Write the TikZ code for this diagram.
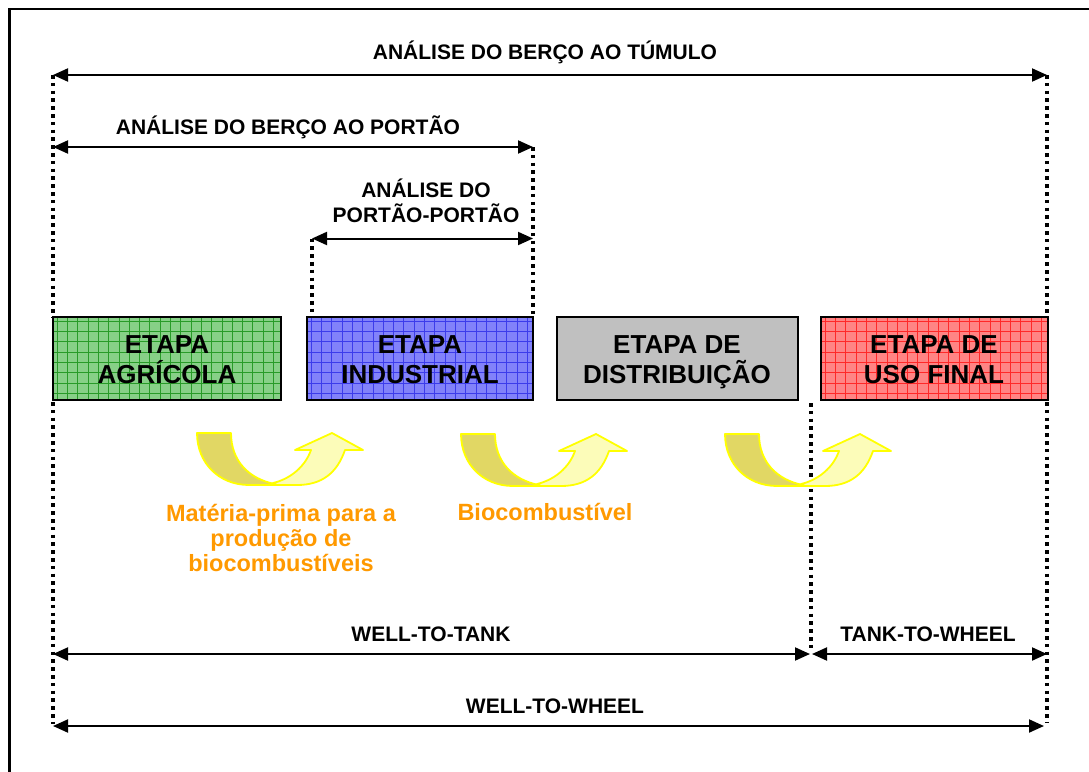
\documentclass[tikz,border=0pt]{standalone}
\usepackage{fontspec}
\setmainfont{Liberation Sans}
\usetikzlibrary{arrows.meta}
\definecolor{grfill}{RGB}{135,208,135}
\definecolor{grline}{RGB}{40,155,40}
\definecolor{blfill}{RGB}{130,130,250}
\definecolor{blline}{RGB}{60,60,235}
\definecolor{rdfill}{RGB}{255,132,132}
\definecolor{rdline}{RGB}{255,40,40}
\definecolor{gyfill}{RGB}{192,192,192}
\definecolor{orng}{RGB}{255,153,0}
\definecolor{ydark}{RGB}{225,215,100}
\definecolor{ylight}{RGB}{252,252,185}
\definecolor{yedge}{RGB}{255,255,0}
\begin{document}
\begin{tikzpicture}[x=1pt,y=-1pt,
  dimline/.style={{Triangle[length=15pt,width=13pt]}-{Triangle[length=15pt,width=13pt]}, line width=2pt},
  dotline/.style={line width=3.6pt, dash pattern=on 3.6pt off 4.2pt},
  lbl/.style={anchor=base, inner sep=0pt, font=\fontsize{21}{25}\selectfont\bfseries},
  boxtxt/.style={anchor=base, inner sep=0pt, font=\fontsize{26}{30}\selectfont\bfseries},
  orng/.style={anchor=base, inner sep=0pt, text=orng, font=\fontsize{23.5}{25}\selectfont\bfseries},
  stagebox/.style={draw, line width=1.8pt, minimum height=83pt, inner sep=0pt},
  gridded/.style={path picture={
     \foreach \k in {0,...,25}{\draw[#1, line width=0.6pt]
        ([xshift=\k*10.3pt+4pt]path picture bounding box.north west) --
        ([xshift=\k*10.3pt+4pt]path picture bounding box.south west);}
     \foreach \k in {0,...,9}{\draw[#1, line width=0.6pt]
        ([yshift=-\k*10.3pt-4pt]path picture bounding box.north west) --
        ([yshift=-\k*10.3pt-4pt]path picture bounding box.north east);}
  }},
  ydk/.style={fill=ydark, draw=yedge, line width=1.8pt, line join=round},
  ylt/.style={fill=ylight, draw=yedge, line width=1.8pt, line join=round}
]
\useasboundingbox (0,0) rectangle (1089,771);
% outer frame (right and bottom edges lie outside the picture)
\draw[line width=2.5pt] (1110,9) -- (9.5,9) -- (9.5,790);

% stage boxes
\node[stagebox, fill=grfill, gridded=grline, minimum width=228pt] (agr) at (167,358.5) {};
\node[stagebox, fill=blfill, gridded=blline, minimum width=226pt] (ind) at (420,358.5) {};
\node[stagebox, fill=gyfill, minimum width=241pt] (dis) at (677.5,358.5) {};
\node[stagebox, fill=rdfill, gridded=rdline, minimum width=227pt] (uso) at (934.5,358.5) {};

\node[boxtxt] (agr1) at (167,353.3) {ETAPA};
\node[boxtxt] (agr2) at (167,383.3) {AGRÍCOLA};
\node[boxtxt] (ind1) at (420,353.3) {ETAPA};
\node[boxtxt] (ind2) at (420,383.3) {INDUSTRIAL};
\node[boxtxt] (dis1) at (677,353.3) {ETAPA DE};
\node[boxtxt] (dis2) at (677,383.3) {DISTRIBUIÇÃO};
\node[boxtxt] (uso1) at (934,353.3) {ETAPA DE};
\node[boxtxt] (uso2) at (934,383.3) {USO FINAL};

% upper dimension lines
\coordinate (a1l) at (53,75);   \coordinate (a1r) at (1047,75);
\coordinate (a2l) at (53,147);  \coordinate (a2r) at (533,147);
\coordinate (a3l) at (312,238.5); \coordinate (a3r) at (533,238.5);
\coordinate (b1l) at (53,317);  \coordinate (b1r) at (1047,317);
\coordinate (b2r) at (533,317); \coordinate (b3l) at (312,317);

\node[lbl] (t1) at (545,59.5) {ANÁLISE DO BERÇO AO TÚMULO};
\node[lbl] (t2) at (288,134.5) {ANÁLISE DO BERÇO AO PORTÃO};
\node[lbl] (t3a) at (426,197.5) {ANÁLISE DO};
\node[lbl] (t3b) at (426,222.5) {PORTÃO-PORTÃO};

\draw[dotline] (a1l) -- (b1l);
\draw[dotline] (a1r) -- (b1r);
\draw[dotline] (a2r) -- (b2r);
\draw[dotline] (a3l) -- (b3l);
\draw[dimline] (a1l) -- (a1r);
\draw[dimline] (a2l) -- (a2r);
\draw[dimline] (a3l) -- (a3r);

% lower dimension lines
\coordinate (c1l) at (53,402);  \coordinate (c1r) at (1047,402);
\coordinate (cm) at (811,403);
\coordinate (d1l) at (53,654);  \coordinate (d1m) at (810,654);
\coordinate (d2m) at (812,654); \coordinate (d2r) at (1047,654);
\coordinate (e1l) at (53,726);  \coordinate (e1r) at (1044,726);
\coordinate (f1l) at (53,724);  \coordinate (f1r) at (1047,722);
\coordinate (fm) at (811,652);

\draw[dotline] (c1l) -- (f1l);
\draw[dotline] (c1r) -- (f1r);
\draw[dotline] (cm) -- (fm);

\node[lbl] (w1) at (431,641.5) {WELL-TO-TANK};
\node[lbl] (w2) at (928,641.5) {TANK-TO-WHEEL};
\node[lbl] (w3) at (555,713.5) {WELL-TO-WHEEL};
\draw[dimline] (d1l) -- (d1m);
\draw[dimline] (d2m) -- (d2r);
\draw[dimline] (e1l) -- (e1r);

% curved yellow arrows
\foreach \sx/\sy in {197/433, 461/434, 725/434}{
  \begin{scope}[shift={(\sx,\sy)}]
    \draw[ylt] (76,50) .. controls (93,46) and (108,34) .. (114,17) -- (98,17) -- (135,0)
       -- (166,17) -- (148,17) .. controls (140,40) and (125,52) .. (100,52) -- (76,52) -- cycle;
    \draw[ydk] (0,0) -- (34,0) .. controls (34,28) and (52,46) .. (78,51) -- (80,52) -- (52,52)
       .. controls (22,52) and (0,30) .. (0,0) -- cycle;
  \end{scope}
}

% orange labels
\node[orng] (o1) at (281,521) {Matéria-prima para a};
\node[orng] (o2) at (281,546) {produção de};
\node[orng] (o3) at (281,571) {biocombustíveis};
\node[orng] (o4) at (545,520) {Biocombustível};
\end{tikzpicture}
\end{document}
